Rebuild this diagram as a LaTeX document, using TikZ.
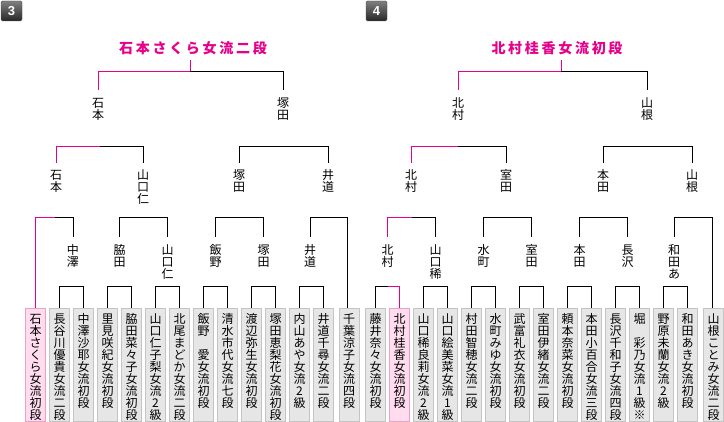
\documentclass[tikz,border=0pt]{standalone}
\usepackage{fontspec}
\setmainfont{Noto Sans CJK JP}
\newfontfamily\badgefont{Liberation Sans}
\definecolor{pnk}{RGB}{230,0,138}
\definecolor{boxgray}{RGB}{230,230,230}
\definecolor{boxedge}{RGB}{196,196,196}
\definecolor{pinkfill}{RGB}{255,221,238}
\definecolor{pinkedge}{RGB}{240,160,200}
\newcommand\vstackcell[1]{\hbox to 14pt{\hss\vrule height 10pt depth 2pt width 0pt\smash{#1}\hss}}
\newcommand\vstackloop[1]{\ifx#1\relax\else\vstackcell{#1}\expandafter\vstackloop\fi}
\newcommand\vstack[1]{\vbox{\offinterlineskip\expandafter\vstackloop#1\relax}}
\newcommand\spaceloop[1]{\ifx#1\relax\else#1\kern2.7pt\expandafter\spaceloop\fi}
\newcommand\spaced[1]{\spaceloop#1\relax\unkern}
\begin{document}
\begin{tikzpicture}[x=1pt,y=-1pt,font=\fontsize{12}{12}\selectfont,
  bk/.style={line width=1pt,black},
  pkl/.style={line width=1pt,pnk},
  lab/.style={inner sep=0pt,anchor=north},
  gbox/.style={draw=boxedge,fill=boxgray,minimum width=20pt,minimum height=113pt,inner sep=0pt,anchor=north,line width=1pt},
  pbox/.style={gbox,draw=pinkedge,fill=pinkfill},
  champ/.style={font=\fontsize{14}{14}\selectfont\bfseries,text=pnk,inner sep=0pt},
  badge/.style={minimum width=21pt,minimum height=20pt,inner sep=0pt,rounded corners=1.5pt,top color=black!50,bottom color=black!85,draw=black!70,text=white,font=\badgefont\bfseries\fontsize{13}{13}\selectfont}]
\useasboundingbox (0,0) rectangle (724,422);
% badges
\node[badge] (b3) at (11.5,11) {3};
\node[badge] (b4) at (376.5,11) {4};
% titles
\node[champ] (t3) at (193,48.5) {\spaced{石本さくら女流二段}};
\node[champ] (t4) at (557,48.5) {\spaced{北村桂香女流初段}};
% ===== left boxes =====
\node[pbox] (lb0) at (35.5,308) {};
\node[lab] (lb0t) at ([yshift=-5pt]lb0.north) {\vstack{石本さくら女流初段}};
\foreach \k/\t in {1/長谷川優貴女流二段,2/中澤沙耶女流初段,3/里見咲紀女流初段,4/脇田菜々子女流初段,5/山口仁子梨女流2級,6/北尾まどか女流二段,7/飯野\empty 愛女流初段,8/清水市代女流七段,9/渡辺弥生女流初段,10/塚田恵梨花女流初段,11/内山あや女流2級,12/井道千尋女流二段}{
  \node[gbox] (lb\k) at (35.5+24*\k,308) {};
  \node[lab] (lb\k t) at ([yshift=-5pt]lb\k.north) {\vstack{\t}};
}
\node[gbox] (lb13) at (349,308) {};
\node[lab] (lb13t) at ([yshift=-5pt]lb13.north) {\vstack{千葉涼子女流四段}};
% ===== right boxes =====
\foreach \k/\t in {0/藤井奈々女流初段,2/山口稀良莉女流2級,3/山口絵美菜女流1級,4/村田智穂女流二段,5/水町みゆ女流初段,6/武富礼衣女流初段,7/室田伊緒女流二段,8/頼本奈菜女流初段,9/本田小百合女流三段,10/長沢千和子女流四段,11/堀\empty 彩乃女流1級※,12/野原未蘭女流2級,13/和田あき女流初段}{
  \node[gbox] (rb\k) at (375.5+24*\k,308) {};
  \node[lab] (rb\k t) at ([yshift=-5pt]rb\k.north) {\vstack{\t}};
}
\node[pbox] (rb1) at (399.5,308) {};
\node[lab] (rb1t) at ([yshift=-5pt]rb1.north) {\vstack{北村桂香女流初段}};
\node[gbox] (rb14) at (713.5,308) {};
\node[lab] (rb14t) at ([yshift=-5pt]rb14.north) {\vstack{山根ことみ女流二段}};
% ===== left labels =====
\node[lab] (lf1) at (98,97) {\vstack{石本}};
\node[lab] (lf2) at (283,97) {\vstack{塚田}};
\node[lab] (ls1) at (56,169) {\vstack{石本}};
\node[lab] (ls2) at (143,169) {\vstack{山口仁}};
\node[lab] (ls3) at (239,169) {\vstack{塚田}};
\node[lab] (ls4) at (328,169) {\vstack{井道}};
\node[lab] (lr1) at (73,244) {\vstack{中澤}};
\node[lab] (lr2) at (119.5,244) {\vstack{脇田}};
\node[lab] (lr3) at (167.5,244) {\vstack{山口仁}};
\node[lab] (lr4) at (215.5,244) {\vstack{飯野}};
\node[lab] (lr5) at (263.5,244) {\vstack{塚田}};
\node[lab] (lr6) at (310,244) {\vstack{井道}};
% ===== right labels =====
\node[lab] (rf1) at (458,97) {\vstack{北村}};
\node[lab] (rf2) at (647,97) {\vstack{山根}};
\node[lab] (rs1) at (411,169) {\vstack{北村}};
\node[lab] (rs2) at (506,169) {\vstack{室田}};
\node[lab] (rs3) at (603,169) {\vstack{本田}};
\node[lab] (rs4) at (692,169) {\vstack{山根}};
\node[lab] (rr1) at (387.5,244) {\vstack{北村}};
\node[lab] (rr2) at (435.5,244) {\vstack{山口稀}};
\node[lab] (rr3) at (483.5,244) {\vstack{水町}};
\node[lab] (rr4) at (531.5,244) {\vstack{室田}};
\node[lab] (rr5) at (579.5,244) {\vstack{本田}};
\node[lab] (rr6) at (627.5,244) {\vstack{長沢}};
\node[lab] (rr7) at (674,244) {\vstack{和田あ}};
% ===== junctions =====
\coordinate (J3f) at (190,72);
\coordinate (J3s) at (100,147);
\coordinate (J3r) at (55,218);
\coordinate (J4f) at (561,72);
\coordinate (J4s) at (458,147);
\coordinate (J4r) at (411.5,218);
\coordinate (J4z) at (387.5,287);
% ===== left connectors =====
\draw[pkl] (J3f) -- ++(0,-12);
\draw[pkl] ([yshift=7pt]lf1.north) |- (J3f);
\draw[bk] (J3f) -| ([yshift=7pt]lf2.north);
\draw[pkl] ([yshift=6pt]ls1.north) |- (J3s);
\draw[bk] (J3s) -| ([yshift=6pt]ls2.north);
\draw[bk] ([yshift=6pt]ls3.north) -- ++(0,-16) -| ([yshift=6pt]ls4.north);
\draw[pkl] (lb0.north) |- (J3r);
\draw[bk] (J3r) -| ([yshift=7pt]lr1.north);
\draw[bk] ([yshift=7pt]lr2.north) -- ++(0,-19) -| ([yshift=7pt]lr3.north);
\draw[bk] ([yshift=7pt]lr4.north) -- ++(0,-19) -| ([yshift=7pt]lr5.north);
\draw[bk] ([yshift=7pt]lr6.north) -- ++(0,-19) -| ([xshift=-1.5pt]lb13.north);
\foreach \a/\b in {1/2,3/4,5/6,7/8,9/10,11/12}{
  \draw[bk] (lb\a.north) -- ++(0,-21) -| (lb\b.north);
}
% ===== right connectors =====
\draw[pkl] (J4f) -- ++(0,-12);
\draw[pkl] ([yshift=7pt]rf1.north) |- (J4f);
\draw[bk] (J4f) -| ([yshift=7pt]rf2.north);
\draw[pkl] ([yshift=6pt]rs1.north) |- (J4s);
\draw[bk] (J4s) -| ([yshift=6pt]rs2.north);
\draw[bk] ([yshift=6pt]rs3.north) -- ++(0,-16) -| ([yshift=6pt]rs4.north);
\draw[pkl] ([yshift=7pt]rr1.north) |- (J4r);
\draw[bk] (J4r) -| ([yshift=7pt]rr2.north);
\draw[bk] ([yshift=7pt]rr3.north) -- ++(0,-19) -| ([yshift=7pt]rr4.north);
\draw[bk] ([yshift=7pt]rr5.north) -- ++(0,-19) -| ([yshift=7pt]rr6.north);
\draw[bk] ([yshift=7pt]rr7.north) -- ++(0,-19) -| ([xshift=-1.5pt]rb14.north);
\draw[bk] (rb0.north) |- (J4z);
\draw[pkl] (J4z) -| (rb1.north);
\foreach \a/\b in {2/3,4/5,6/7,8/9,10/11,12/13}{
  \draw[bk] (rb\a.north) -- ++(0,-21) -| (rb\b.north);
}
\end{tikzpicture}
\end{document}
